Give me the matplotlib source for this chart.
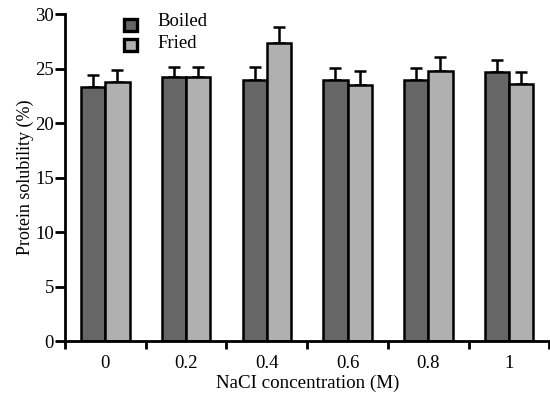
import matplotlib
matplotlib.use("Agg")
import matplotlib.pyplot as plt
import numpy as np
from matplotlib.patches import Rectangle

categories = ["0", "0.2", "0.4", "0.6", "0.8", "1"]
boiled = [23.3, 24.2, 24.0, 24.0, 24.0, 24.7]
boiled_err = [1.1, 1.0, 1.2, 1.1, 1.1, 1.1]
fried = [23.8, 24.2, 27.4, 23.55, 24.8, 23.6]
fried_err = [1.1, 1.0, 1.4, 1.25, 1.3, 1.1]
series_names = ["Boiled", "Fried"]

plt.rcParams['font.family'] = ['Liberation Serif', 'DejaVu Serif']

W, H = 550, 394
fig = plt.figure(figsize=(W/100, H/100), dpi=100)
ax = fig.add_axes([65/W, 1-341/H, 1-65/W - 0.001, (341-14.3)/H])

x = np.arange(len(categories))
w = 0.3
c_b = "#666666"
c_f = "#b0b0b0"
ax.bar(x - w/2, boiled, w, color=c_b, edgecolor="black", linewidth=1.8, zorder=2)
ax.bar(x + w/2, fried, w, color=c_f, edgecolor="black", linewidth=1.8, zorder=2)
ax.errorbar(x - w/2, boiled, yerr=[np.zeros(6), boiled_err], fmt="none", ecolor="black",
            elinewidth=1.8, capsize=4.5, capthick=1.8, zorder=1)
ax.errorbar(x + w/2, fried, yerr=[np.zeros(6), fried_err], fmt="none", ecolor="black",
            elinewidth=1.8, capsize=4.5, capthick=1.8, zorder=1)

ax.set_xlim(-0.5, 5.5)
ax.set_ylim(0, 30)
ax.set_yticks(np.arange(0, 31, 5))
ax.set_xticks(x)
ax.set_xticklabels(categories)
ax.set_xticks(np.arange(-0.5, 5.6, 1), minor=True)
ax.tick_params(axis="x", which="major", length=0, labelsize=13.5, pad=10)
ax.tick_params(axis="x", which="minor", length=6, width=2, direction="out")
ax.tick_params(axis="y", length=7, width=2, labelsize=13.5, pad=1)

for s in ["top", "right"]:
    ax.spines[s].set_visible(False)
for s in ["left", "bottom"]:
    ax.spines[s].set_linewidth(2)

ax.set_xlabel("NaCI concentration (M)", fontsize=13.7, labelpad=2)
ax.set_ylabel("Protein solubility (%)", fontsize=13, labelpad=1)

# legend drawn in figure pixel coordinates
leg_rows = [(17, 48.0 - 22.3 + 0.0), (37, 47.7)]
sq_tops = [17, 37]
baselines = [26, 47.7]
for name, c, top, base in zip(series_names, (c_b, c_f), sq_tops, baselines):
    r = Rectangle(((123 + 1.5)/W, 1 - (top + 15 - 1.5)/H), 12/W, 12/H,
                  transform=fig.transFigure, facecolor=c, edgecolor="black",
                  linewidth=2.4)
    fig.add_artist(r)
    fig.text(157/W, 1 - base/H, name, fontsize=13.5, va="baseline", ha="left")

fig.savefig("out.png", dpi=100)
